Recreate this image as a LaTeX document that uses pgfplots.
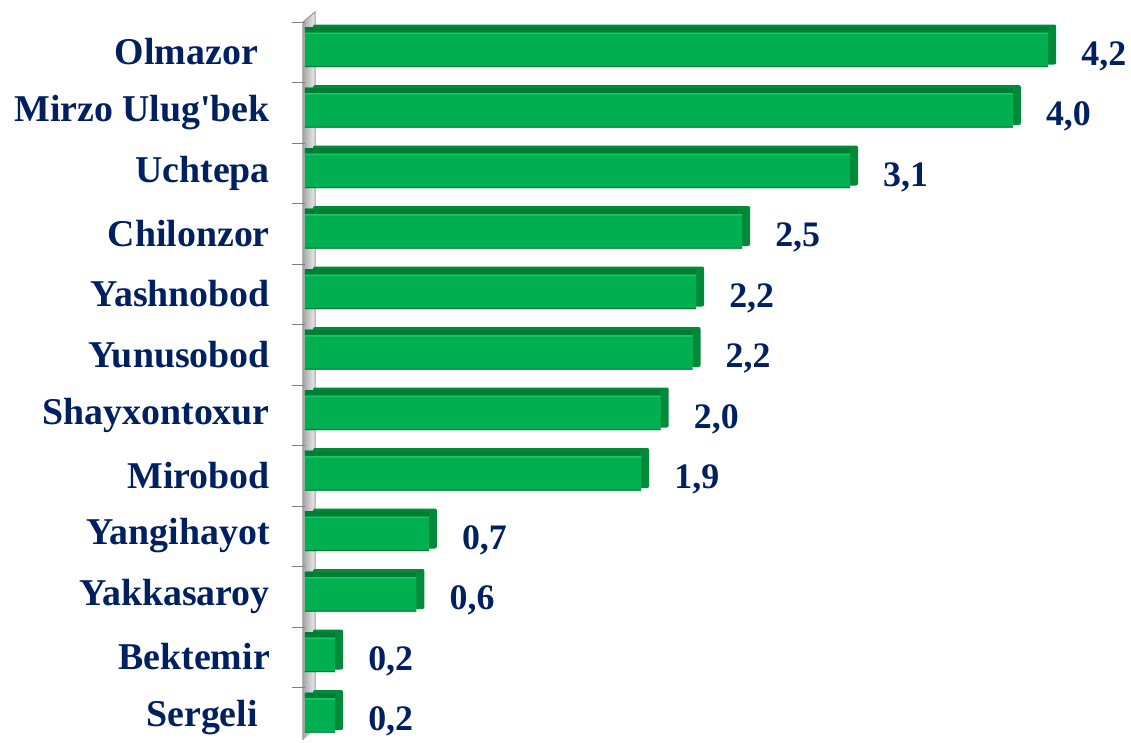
\documentclass[border=0pt]{standalone}
\usepackage{fontspec}
\setmainfont{Liberation Serif}
\usepackage{pgfplots}
\pgfplotsset{compat=1.18}
\usepackage{pgfplotstable}

\definecolor{navy}{RGB}{0,32,96}
\definecolor{gmain}{RGB}{0,176,80}
\definecolor{gdark}{RGB}{0,125,52}
\definecolor{glight}{RGB}{25,200,100}
\definecolor{gside}{RGB}{0,138,58}

% position from top, value
\pgfplotstableread{
idx val
0  4.20
1  4.00
2  3.08
3  2.47
4  2.21
5  2.19
6  2.01
7  1.90
8  0.70
9  0.63
10 0.17
11 0.17
}\districts

\begin{document}
\begin{tikzpicture}
  % grey 3D wall behind the bars
  \shade[left color=gray!70, right color=gray!15]
    (-2bp,-5.25bp) -- (10bp,4.75bp) -- (10bp,-713bp) -- (-2bp,-723bp) -- cycle;
  \draw[gray!80, line width=1bp]
    (-2bp,-5.25bp) -- (10bp,4.75bp) -- (10bp,-713bp) (-2bp,-5.25bp) -- (-2bp,-723bp);

  \begin{axis}[
    at={(0,0)}, anchor=north west,
    scale only axis,
    width=814bp, height=726bp,
    xmin=0, xmax=4.6,
    ymin=-0.5, ymax=11.5,
    y dir=reverse,
    axis lines*=left,
    x axis line style={draw=none},
    y axis line style={draw=none},
    xtick=\empty,
    ytick={0,...,11},
    yticklabels={{Olmazor\kern12bp}, {Mirzo Ulug\textquotesingle bek}, Uchtepa, Chilonzor,
      Yashnobod, Yunusobod, Shayxontoxur, Mirobod, Yangihayot, Yakkasaroy,
      Bektemir, {Sergeli\kern12bp}},
    major tick length=0pt,
    yticklabel style={inner sep=0pt, xshift=-35bp, yshift=-5bp, text=navy,
      font=\fontsize{38}{40}\selectfont\bfseries},
    extra y ticks={-0.41,0.59,1.59,2.59,3.59,4.59,5.59,6.59,7.59,8.59,9.59,10.59},
    extra y tick labels={},
    extra y tick style={major tick length=13bp, tick align=outside,
      tick style={gray, line width=1.2bp}},
    clip=false,
    /pgf/number format/assume math mode=true,
  ]
    % right side face of the bars
    \addplot[xbar, bar shift=0pt, bar width=40bp, fill=gside, draw=none,
      rounded corners=2bp, xshift=8bp, yshift=2.5bp]
      table[x=val, y=idx] {\districts};
    % front face with value labels
    \addplot[xbar, bar shift=0pt, bar width=40bp, fill=gmain, draw=none,
      point meta=x,
      nodes near coords,
      every node near coord/.append style={anchor=west, inner sep=0pt,
        xshift=33bp, yshift=-9bp, text=navy,
        font=\fontsize{36}{38}\selectfont\bfseries,
        /pgf/number format/fixed, /pgf/number format/fixed zerofill,
        /pgf/number format/precision=1, /pgf/number format/use comma}]
      table[x=val, y=idx] {\districts};
    % dark top face and light edge of the bars
    \addplot[xbar, bar shift=17.25bp, bar width=5.5bp, fill=gdark, draw=none]
      table[x=val, y=idx] {\districts};
    \addplot[xbar, bar shift=13.75bp, bar width=1.5bp, fill=glight, draw=none]
      table[x=val, y=idx] {\districts};
    \addplot[xbar, bar shift=-19.5bp, bar width=1bp, fill=gdark, draw=none]
      table[x=val, y=idx] {\districts};
  \end{axis}

  \pgfresetboundingbox
  \useasboundingbox (-305bp,16.75bp) rectangle (826bp,-726.25bp);
\end{tikzpicture}
\end{document}
